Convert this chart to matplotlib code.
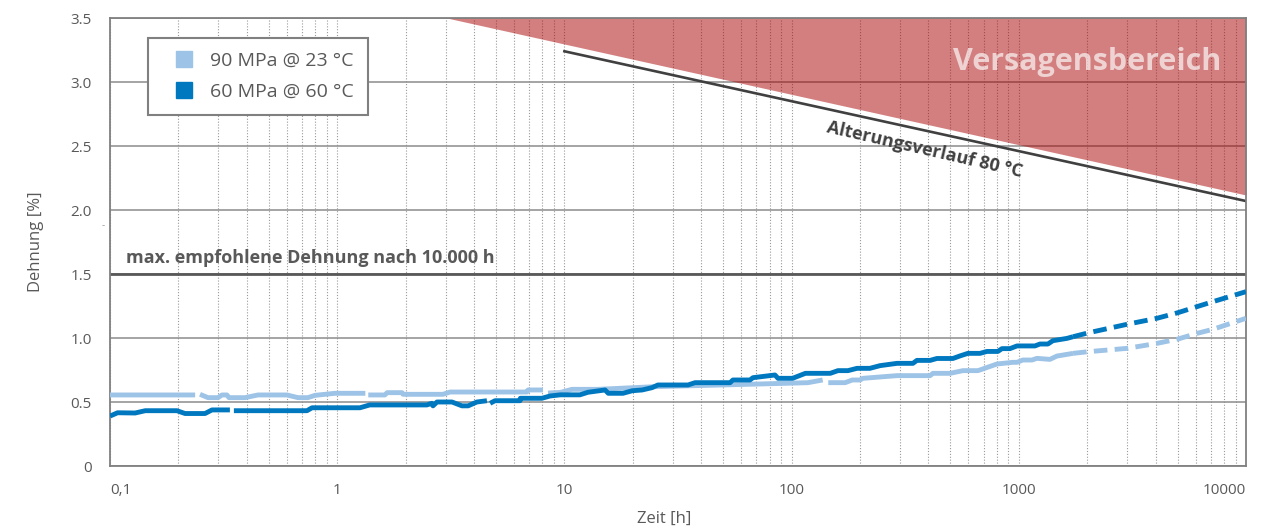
import numpy as np
import matplotlib
matplotlib.use("Agg")
import matplotlib.pyplot as plt
from matplotlib.lines import Line2D
from matplotlib.ticker import LogLocator, NullFormatter, FixedLocator, FixedFormatter

plt.rcParams['font.family'] = ['Open Sans', 'DejaVu Sans']

# 60 MPa @ 60 °C, measured (nan = gap in the curve)
t_60 = [0.1, 0.108, 0.129, 0.143, 0.197, 0.214, 0.262, 0.281, 0.337, np.nan,
        0.351, 0.736, 0.775, 1.26, 1.39, 2.48, 2.61, 2.64, 2.75, 3.20, 3.54, 3.77, 4.12, 4.56, np.nan,
        4.71, 4.95, 6.38, 6.4, 7.96, 8.65, 9.6, 11.7, 12.7, 15.1, 15.6, 18.1, 19.9, 22.0, 24.3,
        25.8, 35.0, 37.6, 53.6, 55.2, 65.6, 67.6, 84.5, 87.1, 101, 115, 148, 160, 177, 194, 221,
        245, 291, 342, 356, 407, 436, 513, 551, 597, 675, 724, 809, 843, 914, 982, 1178, 1239,
        1343, 1413, 1629, 1733]
e_60 = [0.39, 0.416, 0.414, 0.432, 0.432, 0.41, 0.41, 0.438, 0.438, np.nan,
        0.432, 0.432, 0.455, 0.455, 0.477, 0.477, 0.49, 0.47, 0.50, 0.50, 0.47, 0.47, 0.50, 0.51, np.nan,
        0.49, 0.51, 0.51, 0.529, 0.529, 0.547, 0.556, 0.556, 0.576, 0.594, 0.568, 0.568, 0.588, 0.594, 0.612,
        0.633, 0.633, 0.651, 0.651, 0.672, 0.672, 0.69, 0.711, 0.685, 0.685, 0.724, 0.724, 0.745, 0.745, 0.763, 0.763,
        0.784, 0.802, 0.802, 0.825, 0.825, 0.84, 0.84, 0.86, 0.88, 0.88, 0.895, 0.895, 0.917, 0.917, 0.938, 0.938, 0.953,
        0.953, 0.979, 0.997, 1.01]
# 60 MPa @ 60 °C, extrapolation
t_60_ext = [1733, 2018, 2994, 4055, 5020, 6085, 7155, 10000]
e_60_ext = [1.01, 1.04, 1.107, 1.154, 1.198, 1.245, 1.284, 1.362]

# 90 MPa @ 23 °C, measured
t_90 = [0.1, 0.237, np.nan,
        0.249, 0.270, 0.299, 0.311, 0.327, 0.334, 0.393, 0.448, 0.601, 0.672, 0.743, 0.799, 0.978, 1.33, np.nan,
        1.37, 1.62, 1.66, 1.93, 1.95, 2.92, 3.14, 6.84, 6.92, 8.05, np.nan,
        8.47, 9.6, 10.8, 14.1, 25.1, 49.4, 93.5, 118, 137, np.nan,
        145, 172, 185, 200, 206, 291, 407, 419, 498, 568, 661, 802, 942, 982, 1042, 1142, 1202,
        1371, 1472, 1733]
e_90 = [0.555, 0.555, np.nan,
        0.56, 0.534, 0.534, 0.555, 0.555, 0.534, 0.534, 0.555, 0.555, 0.534, 0.534, 0.552, 0.568, 0.568, np.nan,
        0.555, 0.555, 0.573, 0.573, 0.56, 0.56, 0.578, 0.578, 0.594, 0.594, np.nan,
        0.57, 0.575, 0.599, 0.599, 0.62, 0.633, 0.646, 0.651, 0.672, np.nan,
        0.651, 0.651, 0.672, 0.672, 0.685, 0.706, 0.706, 0.724, 0.724, 0.745, 0.745, 0.797, 0.81, 0.81, 0.828, 0.828, 0.841,
        0.833, 0.859, 0.88]
t_90_ext = [1733, 2018, 2994, 4055, 5020, 6085, 7155, 10000]
e_90_ext = [0.88, 0.893, 0.919, 0.958, 0.992, 1.036, 1.068, 1.154]

# ageing curve 80 °C and failure zone border
t_age = [10, 10000]
e_age = [3.24, 2.07]
t_fail = [3.04, 10000]
e_fail = [3.5, 2.117]

max_strain = 1.5
x_ticks = [0.1, 1, 10, 100, 1000, 10000]
x_tick_labels = ['0,1', '1', '10', '100', '1000', '10000']
y_ticks = [0, 0.5, 1.0, 1.5, 2.0, 2.5, 3.0, 3.5]
y_tick_labels = ['0', '0.5', '1.0', '1.5', '2.0', '2.5', '3.0', '3.5']

c_light = '#9DC3E6'
c_dark = '#0078BF'
c_text = '#595959'

fig = plt.figure(figsize=(12.74, 5.31), dpi=100)
ax = fig.add_axes([110 / 1274, 65 / 531, 1136 / 1274, 448 / 531])

ax.set_xscale('log')
ax.set_xlim(0.1, 10000)
ax.set_ylim(0, 3.5)

# grid: dotted verticals, solid horizontals
ax.xaxis.set_major_locator(FixedLocator(x_ticks))
ax.xaxis.set_major_formatter(FixedFormatter(x_tick_labels))
ax.xaxis.set_minor_locator(LogLocator(base=10, subs=np.arange(2, 10)))
ax.xaxis.set_minor_formatter(NullFormatter())
ax.set_yticks(y_ticks)
ax.set_yticklabels(y_tick_labels)
ax.set_axisbelow(True)
ax.grid(axis='x', which='both', linestyle=(0, (1, 1.6)), color='#9A9A9A', linewidth=0.8)
ax.grid(axis='y', which='major', linestyle='-', color='#8C8C8C', linewidth=1.1)

# failure zone
ax.fill_between(t_fail, e_fail, 3.5, color='#A80000', alpha=0.5, linewidth=0, zorder=1.5)
ax.text(1995, 3.156, 'Versagensbereich', fontsize=22, fontweight='bold', color='white', alpha=0.65,
        ha='center', va='center', zorder=3)

# ageing curve
ax.plot(t_age, e_age, color='#404040', linewidth=1.9, zorder=2)
ax.text(383, 2.47, 'Alterungsverlauf 80 °C', fontsize=13, fontweight='bold', color='#404040',
        rotation=-13, ha='center', va='center', rotation_mode='anchor', zorder=3)

# max recommended strain
ax.axhline(max_strain, color='#595959', linewidth=2.0, zorder=2)
ax.text(0.1176, 1.625, 'max. empfohlene Dehnung nach 10.000 h', fontsize=13, fontweight='bold',
        color='#595959', ha='left', va='center', zorder=3)

# creep curves
ax.plot(t_90, e_90, color=c_light, linewidth=3.5, solid_capstyle='butt', solid_joinstyle='round', zorder=4)
ax.plot(t_90_ext, e_90_ext, color=c_light, linewidth=3.5, dashes=(2.8, 1.5), dash_capstyle='butt', zorder=4)
ax.plot(t_60, e_60, color=c_dark, linewidth=3.5, solid_capstyle='butt', solid_joinstyle='round', zorder=5)
ax.plot(t_60_ext, e_60_ext, color=c_dark, linewidth=3.5, dashes=(2.8, 1.5), dash_capstyle='butt', zorder=5)

for s in ax.spines.values():
    s.set_color('#808080')
    s.set_linewidth(1.3)

ax.tick_params(axis='both', which='both', length=0, colors=c_text, labelsize=11)
ax.tick_params(axis='y', pad=13)
ax.tick_params(axis='x', pad=12)
xl = ax.get_xticklabels()
xl[0].set_ha('left')
xl[-1].set_ha('right')

ax.set_ylabel('Dehnung [%]', fontsize=12, color=c_text)
ax.yaxis.set_label_coords(-0.058, 0.5)
ax.set_xlabel('Zeit [h]', fontsize=12, color=c_text)
ax.xaxis.set_label_coords(0.488, -0.10)

handles = [Line2D([], [], marker='s', linestyle='none', markersize=11, color=c_light),
           Line2D([], [], marker='s', linestyle='none', markersize=11, color=c_dark)]
leg = ax.legend(handles, ['90 MPa @ 23 °C', '60 MPa @ 60 °C'], loc='upper left',
                bbox_to_anchor=(38 / 1136, 428 / 448), borderaxespad=0, fontsize=14,
                frameon=True, fancybox=False, framealpha=1, edgecolor='#808080',
                borderpad=0.7, handlelength=2.3, handletextpad=0.2, labelspacing=0.7,
                numpoints=1)
leg.get_frame().set_linewidth(1.5)
leg.set_zorder(6)
for txt in leg.get_texts():
    txt.set_color(c_text)

fig.text(103 / 1274, 1 - 226 / 531, '-', fontsize=7, color='#999999', ha='center', va='center')

fig.savefig('out.png', dpi=100)
